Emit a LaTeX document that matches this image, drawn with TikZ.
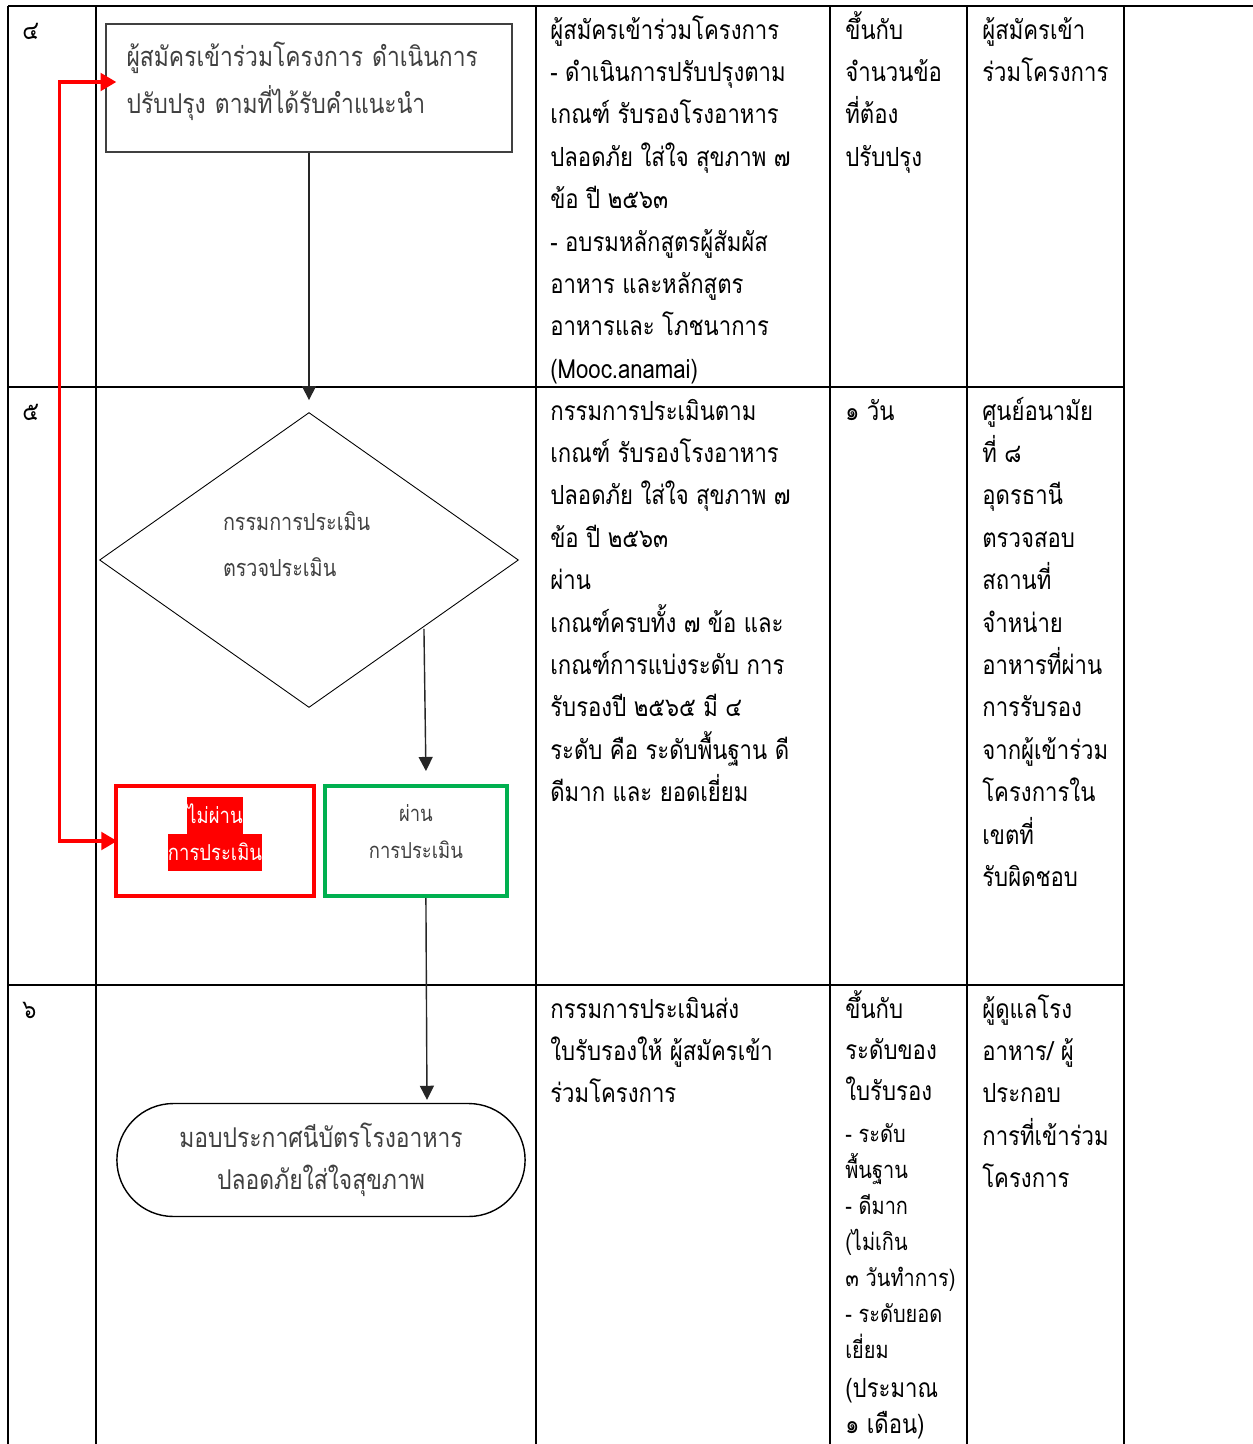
\documentclass[tikz,border=0pt]{standalone}
\usepackage{fontspec}
\setmainfont[Script=Thai,FakeStretch=0.84]{Loma}
\usetikzlibrary{shapes.geometric, shapes.misc, arrows.meta, positioning}
\definecolor{passgreen}{RGB}{0,176,80}
\definecolor{boxgray}{RGB}{64,64,64}
\tikzstyle{grid} = [draw=black, line width=1.3pt]
\tikzstyle{line} = [draw=black!85, -{Triangle[length=8pt,width=8pt]}, line width=0.8pt]
\tikzstyle{back} = [draw=red, {Triangle[length=9pt,width=10pt]}-{Triangle[length=9pt,width=10pt]}, line width=2pt]
\tikzstyle{cell} = [anchor=base west, inner sep=0pt, font=\fontsize{15}{24}\selectfont]
\tikzstyle{smallcell} = [cell, font=\fontsize{13.5}{20}\selectfont]
\tikzstyle{procbox} = [draw=boxgray, line width=0.8pt, minimum width=8.12cm, minimum height=2.56cm, text width=7.3cm, text depth=39pt, align=left, text=boxgray, font=\fontsize{15.5}{27}\selectfont]
\tikzstyle{decision} = [diamond, aspect=1.42, draw=black, line width=0.5pt, minimum width=8.38cm, minimum height=5.9cm, text width=3.44cm, text depth=44pt, align=left, text=boxgray, font=\fontsize{13.4}{26}\selectfont]
\tikzstyle{failbox} = [draw=red, line width=2.2pt, minimum width=3.96cm, minimum height=2.2cm, text depth=14pt, align=center, font=\fontsize{12.5}{21}\selectfont]
\tikzstyle{passbox} = [failbox, draw=passgreen, line width=2.3pt, minimum width=3.64cm, text depth=11pt, text=boxgray]
\tikzstyle{endbox} = [rounded rectangle, draw=black, line width=0.8pt, minimum width=8.4cm, minimum height=2.26cm, align=center, text=boxgray, font=\fontsize{15.5}{24}\selectfont]
\newcommand{\redmark}[1]{{\setlength{\fboxsep}{0pt}\colorbox{red}{\rule[-6pt]{0pt}{21pt}\textcolor{white}{#1}}}}

\begin{document}
\begin{tikzpicture}[x=0.02cm, y=-0.02cm]
\useasboundingbox (0,0) rectangle (1253,1444);

% table
\draw[grid] (8,6) -- (1253,6);
\foreach \x in {8,96,536,830,967,1124}{
  \draw[grid] (\x,6) -- (\x,1444);
}
\foreach \y in {387,985}{
  \draw[grid] (8,\y) -- (1124,\y);
}

% step numbers
\node[cell] (no4) at (22,39) {๔};
\node[cell] (no5) at (22,420) {๕};
\node[cell] (no6) at (22,1018) {๖};

% flow
\node[procbox] (improve) at (309,88) {ผู้สมัครเข้าร่วมโครงการ ดำเนินการ\\ปรับปรุง ตามที่ได้รับคำแนะนำ};
\node[decision] (check) at (309,560) {กรรมการประเมิน\\ตรวจประเมิน};
\node[failbox] (fail) at (215,841) {\redmark{ไม่ผ่าน}\\\redmark{การประเมิน}};
\node[passbox, right=0.14cm of fail] (pass) {ผ่าน\\การประเมิน};
\node[endbox] (award) at (321,1160) {มอบประกาศนีบัตรโรงอาหาร\\ปลอดภัยใส่ใจสุขภาพ};

\draw[line, shorten >=0.24cm] (improve) -- (check);
\draw[line] ([shift={(0.2cm,0.1cm)}]check.south east) -- ([xshift=0.2cm, yshift=0.26cm]pass.north);
\draw[line] ([xshift=0.2cm]pass.south) -- ([xshift=2.12cm, yshift=0.06cm]award.north);
\draw[back] ([xshift=0.22cm, yshift=0.12cm]improve.west) -- ++(-1.14cm,0) |- ([xshift=0.06cm]fail.west);

% step 4
\foreach \t [count=\i from 0] in {ผู้สมัครเข้าร่วมโครงการ, - ดำเนินการปรับปรุงตาม, เกณฑ์ รับรองโรงอาหาร, ปลอดภัย ใส่ใจ สุขภาพ ๗, ข้อ ปี ๒๕๖๓, - อบรมหลักสูตรผู้สัมผัส, อาหาร และหลักสูตร, อาหารและ โภชนาการ, {(Mooc.anamai)}}{
  \node[cell] (work4-\i) at (550, 39+42.4*\i) {\t};
}
\foreach \t [count=\i from 0] in {ขึ้นกับ, จำนวนข้อ, ที่ต้อง, ปรับปรุง}{
  \node[cell] (time4-\i) at (845, 39+42.4*\i) {\t};
}
\foreach \t [count=\i from 0] in {ผู้สมัครเข้า, ร่วมโครงการ}{
  \node[cell] (who4-\i) at (982, 39+42.4*\i) {\t};
}

% step 5
\foreach \t [count=\i from 0] in {กรรมการประเมินตาม, เกณฑ์ รับรองโรงอาหาร, ปลอดภัย ใส่ใจ สุขภาพ ๗, ข้อ ปี ๒๕๖๓, ผ่าน, เกณฑ์ครบทั้ง ๗ ข้อ และ, เกณฑ์การแบ่งระดับ การ, รับรองปี ๒๕๖๕ มี ๔, ระดับ คือ ระดับพื้นฐาน ดี, ดีมาก และ ยอดเยี่ยม}{
  \node[cell] (work5-\i) at (550, 420+42.4*\i) {\t};
}
\node[cell] (time5) at (845,420) {๑ วัน};
\foreach \t [count=\i from 0] in {ศูนย์อนามัย, ที่ ๘, อุดรธานี, ตรวจสอบ, สถานที่, จำหน่าย, อาหารที่ผ่าน, การรับรอง, จากผู้เข้าร่วม, โครงการใน, เขตที่, รับผิดชอบ}{
  \node[cell] (who5-\i) at (982, 420+42.4*\i) {\t};
}

% step 6
\foreach \t [count=\i from 0] in {กรรมการประเมินส่ง, ใบรับรองให้ ผู้สมัครเข้า, ร่วมโครงการ}{
  \node[cell] (work6-\i) at (550, 1018+42.4*\i) {\t};
}
\foreach \t [count=\i from 0] in {ขึ้นกับ, ระดับของ, ใบรับรอง}{
  \node[cell] (time6-\i) at (845, 1018+41*\i) {\t};
}
\foreach \t [count=\i from 0] in {- ระดับ, พื้นฐาน, - ดีมาก, {(ไม่เกิน}, ๓ วันทำการ), - ระดับยอด, เยี่ยม}{
  \node[smallcell] (level6-\i) at (845, 1142+36*\i) {\t};
}
\node[cell] (about6) at (845,1397) {(ประมาณ};
\node[cell] (month6) at (845,1433) {๑ เดือน)};
\foreach \t [count=\i from 0] in {ผู้ดูแลโรง, อาหาร/ ผู้, ประกอบ, การที่เข้าร่วม, โครงการ}{
  \node[cell] (who6-\i) at (982, 1018+42.4*\i) {\t};
}

\end{tikzpicture}
\end{document}
